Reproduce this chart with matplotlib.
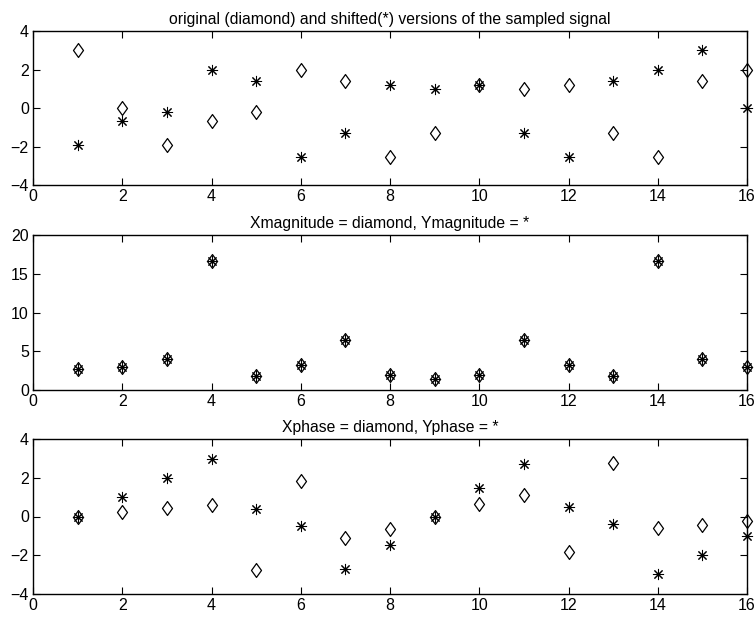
import matplotlib
matplotlib.use("Agg")
import matplotlib.pyplot as plt
from matplotlib.path import Path

plt.rcParams['font.family'] = ['Liberation Sans', 'DejaVu Sans']
plt.rcParams['font.size'] = 11

n = list(range(1, 17))

# top panel: original (diamond) and shifted (*) samples
x_orig = [3.0, 0.0, -1.93, -0.67, -0.2, 2.0, 1.42, -2.56, -1.31, 1.21, 0.98, 1.21, -1.31, -2.56, 1.42, 2.0]
y_shift = [-1.93, -0.67, -0.2, 2.0, 1.42, -2.56, -1.31, 1.21, 0.98, 1.21, -1.31, -2.56, 1.42, 2.0, 3.0, 0.0]

# middle panel: magnitudes
x_mag = [2.68, 2.99, 4.03, 16.62, 1.86, 3.25, 6.41, 1.99, 1.43, 1.99, 6.41, 3.25, 1.86, 16.62, 4.03, 2.99]
y_mag = [2.68, 2.99, 4.03, 16.62, 1.86, 3.25, 6.41, 1.99, 1.43, 1.99, 6.41, 3.25, 1.86, 16.62, 4.03, 2.99]

# bottom panel: phases
x_phase = [0.0, 0.22, 0.44, 0.6, -2.76, 1.84, -1.13, -0.65, 0.0, 0.65, 1.13, -1.84, 2.76, -0.6, -0.44, -0.22]
y_phase = [0.0, 1.0, 2.0, 2.97, 0.39, -0.51, -2.73, -1.45, 0.0, 1.45, 2.73, 0.51, -0.39, -2.97, -2.0, -1.0]

titles = ["original (diamond) and shifted(*) versions of the sampled signal",
          "Xmagnitude = diamond, Ymagnitude = *",
          "Xphase = diamond, Yphase = *"]
x_ticks = [0, 2, 4, 6, 8, 10, 12, 14, 16]
y_ticks_list = [[-4, -2, 0, 2, 4], [0, 5, 10, 15, 20], [-4, -2, 0, 2, 4]]
y_lims = [(-4, 4), (0, 20), (-4, 4)]

diamond = Path([(0, 1), (0.72, 0), (0, -1), (-0.72, 0), (0, 1)],
               [Path.MOVETO, Path.LINETO, Path.LINETO, Path.LINETO, Path.CLOSEPOLY])
asterisk = (8, 2, 0)

W, H = 754, 617
fig = plt.figure(figsize=(W / 100, H / 100), dpi=100)
boxes = [(31, 185), (235, 390), (439, 594)]
left, right = 33, 747

data = [(x_orig, y_shift), (x_mag, y_mag), (x_phase, y_phase)]
for i, ((top, bot), (dv, sv)) in enumerate(zip(boxes, data)):
    ax = fig.add_axes([left / W, 1 - bot / H, (right - left) / W, (bot - top) / H])
    ax.plot(n, dv, linestyle='none', marker=diamond, markersize=10,
            markerfacecolor='none', markeredgecolor='black', markeredgewidth=0.9, clip_on=False)
    ax.plot(n, sv, linestyle='none', marker=asterisk, markersize=8,
            markeredgecolor='black', markeredgewidth=0.75, color='black', clip_on=False)
    ax.set_xlim(0, 16)
    ax.set_ylim(*y_lims[i])
    ax.set_xticks(x_ticks)
    ax.set_yticks(y_ticks_list[i])
    ax.tick_params(direction='in', top=True, right=True, length=5, width=0.8,
                   labelsize=11.5, pad=3)
    for s in ax.spines.values():
        s.set_linewidth(1.0)
    ax.set_title(titles[i], fontsize=11.3, pad=5)

fig.savefig("out.png", dpi=100)
